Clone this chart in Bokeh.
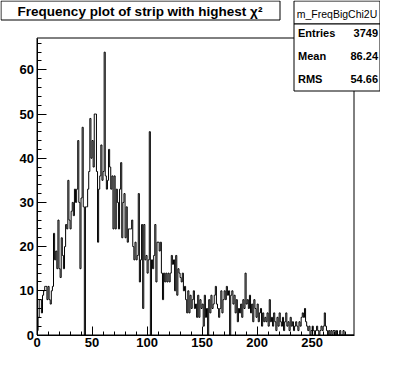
import numpy as np
from bokeh.plotting import figure
from bokeh.models import Range1d, Label, BoxAnnotation, FixedTicker
from bokeh.embed import file_html
from bokeh.resources import INLINE

# ---- data ----
counts = [
    1, 4, 8, 8, 5, 9, 10, 11, 11, 8,
    11, 8, 7, 10, 11, 23, 17, 19, 15, 26,
    15, 13, 22, 18, 15, 20, 25, 24, 35, 26,
    24, 28, 30, 27, 33, 30, 33, 44, 30, 15,
    31, 47, 29, 0, 29, 29, 33, 37, 49, 40,
    44, 38, 50, 50, 37, 21, 33, 36, 43, 35,
    37, 64, 36, 33, 35, 42, 38, 33, 36, 24,
    36, 24, 33, 30, 24, 33, 39, 22, 30, 32,
    22, 29, 21, 24, 24, 24, 26, 20, 17, 21,
    17, 18, 32, 12, 17, 25, 6, 25, 17, 18,
    14, 17, 46, 0, 17, 15, 18, 25, 12, 21,
    21, 19, 21, 14, 8, 14, 12, 14, 12, 14,
    12, 14, 18, 16, 17, 10, 18, 9, 15, 14,
    13, 12, 14, 10, 11, 8, 5, 10, 5, 9,
    6, 8, 10, 6, 7, 4, 9, 4, 8, 6,
    7, 2, 9, 4, 6, 0, 8, 5, 9, 6,
    7, 9, 11, 7, 6, 4, 6, 10, 5, 8,
    10, 8, 11, 9, 10, 0, 9, 10, 7, 9,
    5, 8, 3, 6, 5, 7, 4, 8, 6, 14,
    7, 8, 6, 9, 5, 7, 3, 8, 6, 4,
    7, 3, 5, 6, 2, 5, 3, 4, 3, 5,
    2, 8, 3, 4, 2, 5, 3, 1, 4, 2,
    5, 3, 2, 4, 1, 3, 5, 2, 3, 1,
    4, 2, 3, 1, 2, 3, 2, 1, 3, 2,
    4, 5, 4, 6, 3, 2, 1, 2, 0, 1,
    2, 1, 0, 1, 2, 1, 0, 1, 2, 1,
    2, 5, 2, 1, 0, 1, 0, 1, 0, 1,
    1, 0, 1, 0, 0, 1, 0, 0, 1, 0,
    0, 0, 0, 0, 0, 0, 0, 0,
]
x_ticks = [0, 50, 100, 150, 200, 250]
y_ticks = [0, 10, 20, 30, 40, 50, 60]
y_max = 67.2
title_text = "Frequency plot of strip with highest \u03c7\u00b2"
stats_name = "m_FreqBigChi2U"
stats_labels = ["Entries", "Mean", "RMS"]
stats_values = ["3749", "86.24", "54.66"]

# ---- layout (canvas pixels) ----
W, H = 380, 356
FL, FR, FT, FB = 36.5, 353.5, 37.5, 334.5   # frame line centres
FONT = "Liberation Sans"

nbins = len(counts)
edges = np.arange(nbins + 1)
ystep = counts + [counts[-1]]

# the plotting frame covers the whole canvas so that the boxes are not clipped;
# ranges are chosen so that the histogram box sits at FL..FR / FT..FB
kx = (FR - FL) / nbins
ky = (FB - FT) / y_max
x_range = Range1d(-FL / kx, nbins + (W - FR) / kx)
y_range = Range1d(-(H - FB) / ky, y_max + FT / ky)

p = figure(width=W, height=H, output_backend="svg", toolbar_location=None,
           title=None, x_range=x_range, y_range=y_range,
           min_border=0, min_border_left=0, min_border_right=0,
           min_border_top=0, min_border_bottom=0)
p.background_fill_color = "white"
p.border_fill_color = "white"
p.outline_line_color = None
p.xgrid.visible = False
p.ygrid.visible = False

# frame box of the histogram
p.add_layout(BoxAnnotation(left=0, right=nbins, bottom=0, top=y_max,
                           fill_color=None, fill_alpha=0,
                           line_color="black", line_width=1, line_alpha=1,
                           level="underlay"))

p.step(x=edges, y=ystep, mode="after", line_color="black", line_width=1)

p.xaxis.ticker = FixedTicker(ticks=x_ticks, minor_ticks=list(range(0, nbins + 1, 10)))
p.yaxis.ticker = FixedTicker(ticks=y_ticks, minor_ticks=list(range(0, 68, 2)))
p.xaxis.fixed_location = 0
p.yaxis.fixed_location = 0
p.xaxis.bounds = (0, nbins)
p.yaxis.bounds = (0, y_max)
for ax in (p.xaxis, p.yaxis):
    ax.axis_line_color = "black"
    ax.major_tick_line_color = "black"
    ax.minor_tick_line_color = "black"
    ax.major_tick_in = 9
    ax.major_tick_out = 0
    ax.minor_tick_in = 4
    ax.minor_tick_out = 0
    ax.major_label_text_font = FONT
    ax.major_label_text_font_style = "bold"
    ax.major_label_text_font_size = "13px"
    ax.major_label_text_color = "black"
    ax.major_label_standoff = 3


def cx(c):
    return c


def cy(c):
    return H - c


def box(l, t, r, b):
    return BoxAnnotation(left=cx(l), right=cx(r), top=cy(t), bottom=cy(b),
                         left_units="screen", right_units="screen",
                         top_units="screen", bottom_units="screen",
                         fill_color="white", fill_alpha=1,
                         line_color="black", line_width=1, line_alpha=1,
                         level="overlay")


def label(x, y, text, align="left", size="11px", style="bold"):
    return Label(x=cx(x), y=cy(y), x_units="screen", y_units="screen",
                 text=text, text_align=align, text_baseline="middle",
                 text_font=FONT, text_font_style=style,
                 text_font_size=size, text_color="black", level="overlay")


# title box
p.add_layout(box(0.5, 0.5, 279.5, 19.5))
p.add_layout(label(139.5, 10.5, title_text, align="center", size="13.5px"))

# stats box
SL, SR = 293.5, 379.5
p.add_layout(box(SL, 0.5, SR, 23.5))
p.add_layout(box(SL, 23.5, SR, 90.5))
p.add_layout(label((SL + SR) / 2, 13.5, stats_name, align="center", size="10.5px", style="normal"))
rows_y = [32, 55, 78]
for lab, val, yy in zip(stats_labels, stats_values, rows_y):
    p.add_layout(label(297.5, yy, lab, align="left", size="11px"))
    p.add_layout(label(377.5, yy, val, align="right", size="11px"))

open("out.html", "w").write(file_html(p, INLINE))
